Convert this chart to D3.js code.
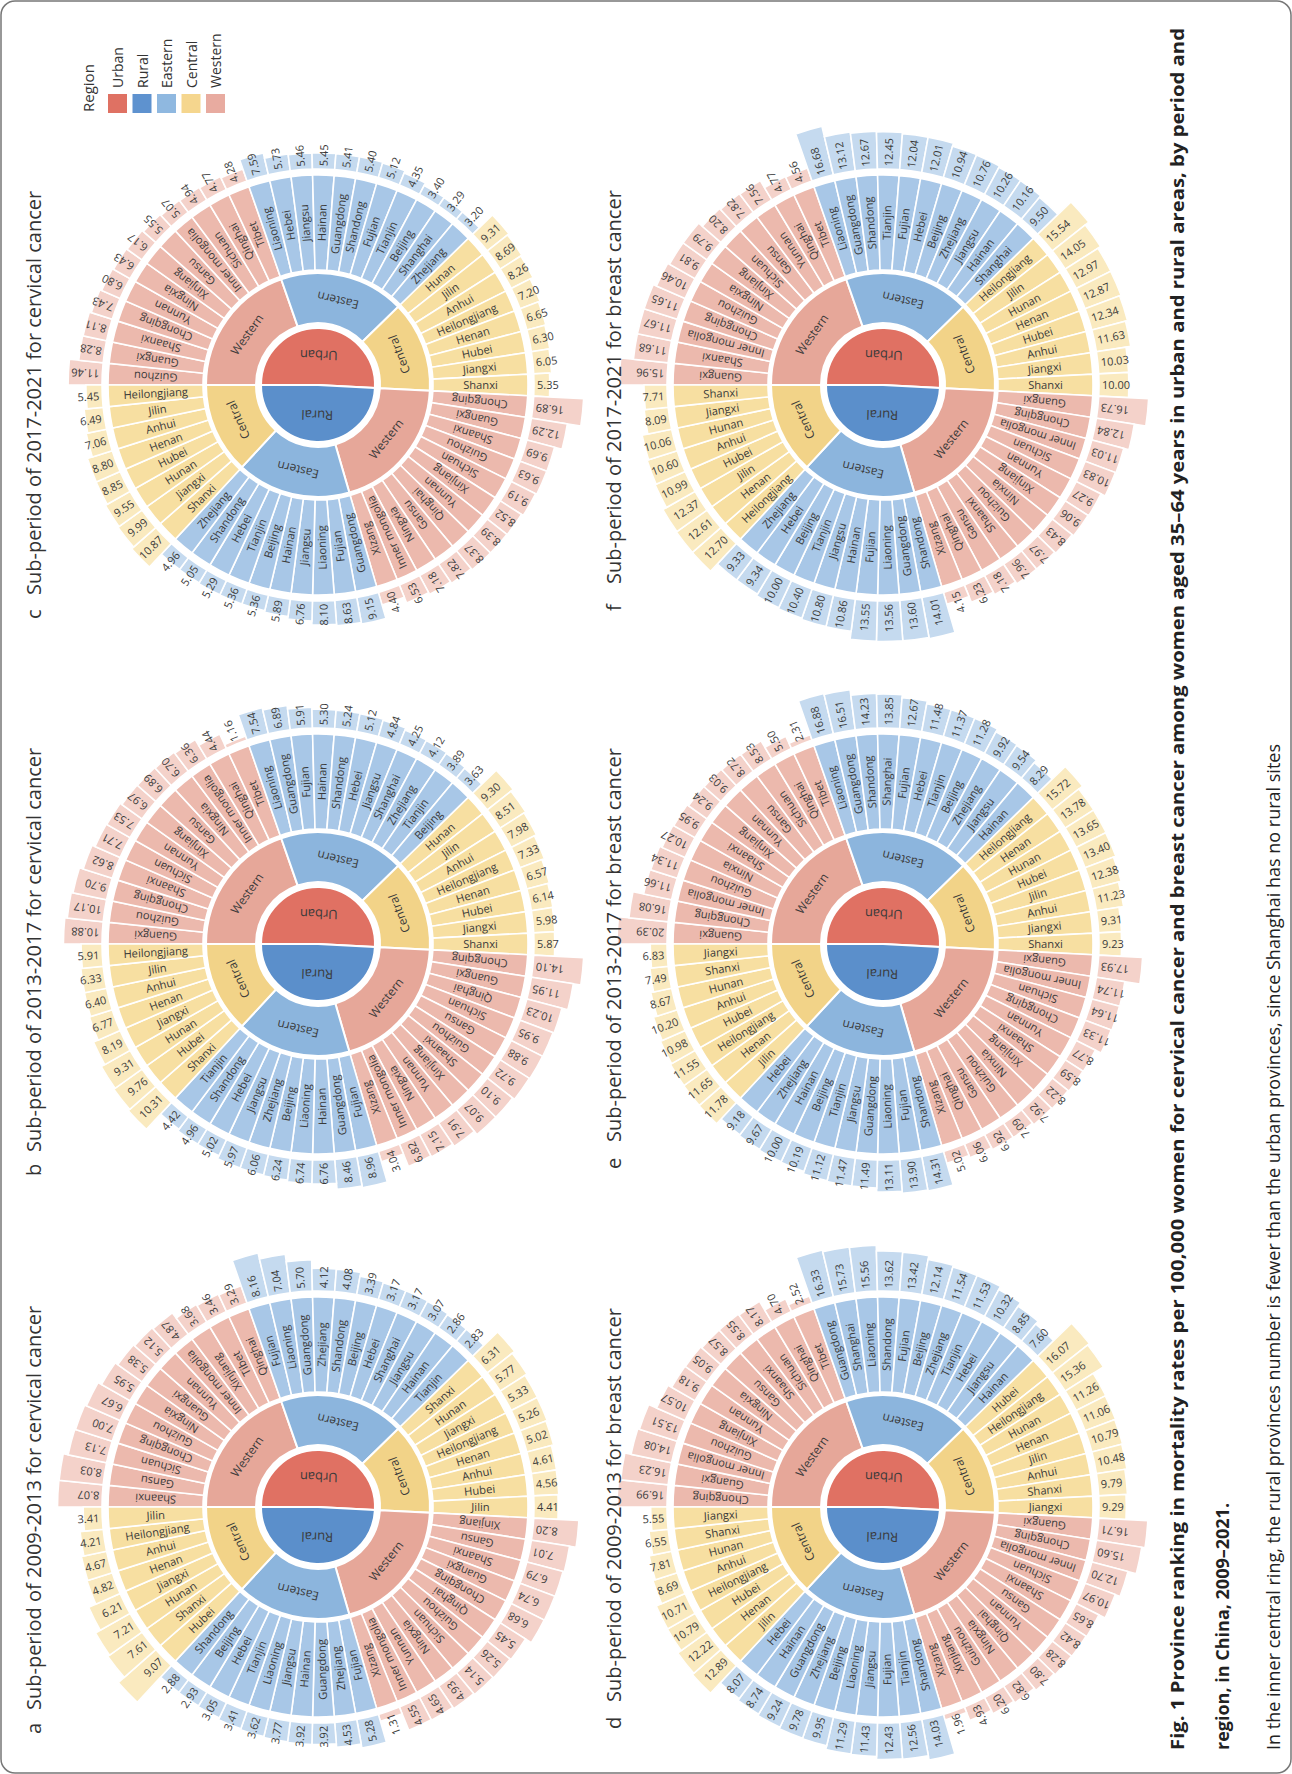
<!DOCTYPE html>
<html>
<head>
<meta charset="utf-8">
<script src="https://cdn.jsdelivr.net/npm/d3@7"></script>
<style>
  body { margin: 0; background: #fff; }
  text { font-family: "Open Sans", "DejaVu Sans", sans-serif; }
</style>
</head>
<body>
<svg id="fig" width="1292" height="1774"></svg>
<script>
// ---- data -------------------------------------------------------------
// each ring goes clockwise: Urban Western, Eastern, Central, then Rural Western, Eastern, Central
const settings = ["Urban", "Rural"];
const regions = ["Western", "Eastern", "Central"];
const groupSizes = [12, 11, 8, 12, 10, 8];

const panelLetters = ["a", "b", "c", "d", "e", "f"];
const panelTitles = [
  "Sub-period of 2009-2013 for cervical cancer",
  "Sub-period of 2013-2017 for cervical cancer",
  "Sub-period of 2017-2021 for cervical cancer",
  "Sub-period of 2009-2013 for breast cancer",
  "Sub-period of 2013-2017 for breast cancer",
  "Sub-period of 2017-2021 for breast cancer"
];

const namesA = ["Shaanxi","Gansu","Sichuan","Chongqing","Guizhou","Ningxia","Guangxi","Yunnan","Inner mongolia","Xinjiang","Tibet","Qinghai",
  "Fujian","Liaoning","Guangdong","Zhejiang","Shandong","Beijing","Hebei","Shanghai","Jiangsu","Hainan","Tianjin",
  "Shanxi","Hunan","Jiangxi","Heilongjiang","Henan","Anhui","Hubei","Jilin",
  "Xinjiang","Gansu","Shaanxi","Guangxi","Chongqing","Qinghai","Guizhou","Sichuan","Ningxia","Yunnan","Inner mongolia","Xizang",
  "Fujian","Zhejiang","Guangdong","Hainan","Jiangsu","Liaoning","Tianjin","Hebei","Beijing","Shandong",
  "Hubei","Shanxi","Hunan","Jiangxi","Henan","Anhui","Heilongjiang","Jilin"];
const valuesA = [8.07,8.03,7.13,7.00,6.67,5.95,5.38,5.12,4.87,3.68,3.46,3.29,
  8.16,7.04,5.70,4.12,4.08,3.39,3.17,3.17,3.07,2.86,2.83,
  6.31,5.77,5.33,5.26,5.02,4.61,4.56,4.41,
  8.20,7.01,6.79,6.74,6.68,5.45,5.26,5.14,4.93,4.65,4.55,1.31,
  5.28,4.53,3.92,3.92,3.77,3.62,3.41,3.05,2.93,2.88,
  9.07,7.61,7.21,6.21,4.82,4.67,4.21,3.41];

const namesB = ["Guangxi","Guizhou","Chongqing","Shaanxi","Sichuan","Yunnan","Xinjiang","Gansu","Ningxia","Inner mongolia","Qinghai","Tibet",
  "Liaoning","Guangdong","Fujian","Hainan","Shandong","Hebei","Jiangsu","Shanghai","Zhejiang","Tianjin","Beijing",
  "Hunan","Jilin","Anhui","Heilongjiang","Henan","Hubei","Jiangxi","Shanxi",
  "Chongqing","Guangxi","Qinghai","Sichuan","Gansu","Guizhou","Shaanxi","Xinjiang","Yunnan","Ningxia","Inner mongolia","Xizang",
  "Fujian","Guangdong","Hainan","Liaoning","Beijing","Zhejiang","Jiangsu","Hebei","Shandong","Tianjin",
  "Shanxi","Hubei","Hunan","Jiangxi","Henan","Anhui","Jilin","Heilongjiang"];
const valuesB = [10.88,10.17,9.70,8.62,7.71,7.53,6.97,6.89,6.70,6.36,4.44,1.16,
  7.54,6.89,5.91,5.30,5.24,5.12,4.84,4.25,4.12,3.89,3.63,
  9.30,8.51,7.98,7.33,6.57,6.14,5.98,5.87,
  14.10,11.95,10.23,9.95,9.88,9.72,9.10,9.07,7.91,7.15,6.82,3.04,
  8.96,8.46,6.76,6.74,6.24,6.06,5.97,5.02,4.96,4.42,
  10.31,9.76,9.31,8.19,6.77,6.40,6.33,5.91];

const namesC = ["Guizhou","Guangxi","Shaanxi","Chongqing","Yunnan","Ningxia","Xinjiang","Gansu","Inner mongolia","Sichuan","Qinghai","Tibet",
  "Liaoning","Hebei","Jiangsu","Hainan","Guangdong","Shandong","Fujian","Tianjin","Beijing","Shanghai","Zhejiang",
  "Hunan","Jilin","Anhui","Heilongjiang","Henan","Hubei","Jiangxi","Shanxi",
  "Chongqing","Guangxi","Shaanxi","Guizhou","Sichuan","Xinjiang","Yunnan","Qinghai","Gansu","Ningxia","Inner mongolia","Xizang",
  "Guangdong","Fujian","Liaoning","Jiangsu","Hainan","Beijing","Tianjin","Hebei","Shandong","Zhejiang",
  "Shanxi","Jiangxi","Hunan","Hubei","Henan","Anhui","Jilin","Heilongjiang"];
const valuesC = [11.46,8.28,8.11,7.43,6.80,6.43,6.17,5.55,5.07,4.94,4.77,4.28,
  7.59,5.73,5.46,5.45,5.41,5.40,5.12,4.35,3.40,3.29,3.20,
  9.31,8.69,8.26,7.20,6.65,6.30,6.05,5.35,
  16.89,12.29,9.69,9.63,9.19,8.52,8.39,8.37,7.82,7.18,6.53,4.40,
  9.15,8.63,8.10,6.76,5.89,5.36,5.36,5.29,5.05,4.96,
  10.87,9.99,9.55,8.85,8.80,7.06,6.49,5.45];

const namesD = ["Chongqing","Guangxi","Inner mongolia","Guizhou","Xinjiang","Yunnan","Ningxia","Gansu","Shaanxi","Sichuan","Qinghai","Tibet",
  "Guangdong","Shanghai","Liaoning","Shandong","Fujian","Beijing","Zhejiang","Tianjin","Hebei","Jiangsu","Hainan",
  "Hubei","Heilongjiang","Hunan","Henan","Jilin","Anhui","Shanxi","Jiangxi",
  "Guangxi","Chongqing","Inner mongolia","Sichuan","Shaanxi","Gansu","Yunnan","Qinghai","Ningxia","Guizhou","Xinjiang","Xizang",
  "Shandong","Tianjin","Fujian","Jiangsu","Liaoning","Beijing","Zhejiang","Guangdong","Hainan","Hebei",
  "Jilin","Henan","Hubei","Heilongjiang","Anhui","Hunan","Shanxi","Jiangxi"];
const valuesD = [16.99,16.23,14.08,13.51,10.57,9.18,9.05,8.57,8.55,8.17,4.70,2.52,
  16.33,15.73,15.56,13.62,13.42,12.14,11.54,11.53,10.32,8.85,7.60,
  16.07,15.36,11.26,11.06,10.79,10.48,9.79,9.29,
  16.71,15.60,12.70,10.97,8.65,8.42,8.28,7.80,6.82,6.20,4.93,1.96,
  14.03,12.56,12.43,11.43,11.29,9.95,9.78,9.24,8.74,8.07,
  12.89,12.22,10.79,10.71,8.69,7.81,6.55,5.55];

const namesE = ["Guangxi","Chongqing","Inner mongolia","Guizhou","Ninxia","Shaanxi","Xinjiang","Yunnan","Gansu","Sichuan","Qinghai","Tibet",
  "Liaoning","Guangdong","Shandong","Shanghai","Fujian","Hebei","Tianjin","Beijing","Zhejiang","Jiangsu","Hainan",
  "Heilongjiang","Henan","Hunan","Hubei","Jilin","Anhui","Jiangxi","Shanxi",
  "Guangxi","Inner mongolia","Sichuan","Chongqing","Yunnan","Shaanxi","Xinjiang","Ninxia","Guizhou","Gansu","Qinghai","Xizang",
  "Shandong","Fujian","Liaoning","Guangdong","Jiangsu","Tianjin","Beijing","Hainan","Zhejiang","Hebei",
  "Jilin","Henan","Heilongjiang","Hubei","Anhui","Hunan","Shanxi","Jiangxi"];
const valuesE = [20.39,16.08,11.66,11.34,10.27,9.95,9.24,9.03,8.72,8.53,5.50,2.31,
  16.88,16.51,14.23,13.85,12.67,11.48,11.37,11.28,9.92,9.54,8.29,
  15.72,13.78,13.65,13.40,12.38,11.23,9.31,9.23,
  17.93,11.74,11.64,11.33,8.77,8.59,8.22,7.92,7.09,6.92,6.06,5.02,
  14.31,13.90,13.11,11.49,11.47,11.12,10.19,10.00,9.67,9.18,
  11.78,11.65,11.55,10.98,10.20,8.67,7.49,6.83];

const namesF = ["Guangxi","Shaanxi","Inner mongolia","Chongqing","Guizhou","Ningxia","Xinjiang","Sichuan","Gansu","Yunnan","Qinghai","Tibet",
  "Liaoning","Guangdong","Shandong","Tianjin","Fujian","Hebei","Beijing","Zhejiang","Jiangsu","Hainan","Shanghai",
  "Heilongjiang","Jilin","Hunan","Henan","Hubei","Anhui","Jiangxi","Shanxi",
  "Guangxi","Chongqing","Inner mongolia","Sichuan","Yunnan","Xinjiang","Ninxia","Guizhou","Shaanxi","Gansu","Qinghai","Xizang",
  "Shandong","Guangdong","Liaoning","Fujian","Hainan","Jiangsu","Tianjin","Beijing","Hebei","Zhejiang",
  "Heilongjiang","Henan","Jilin","Hubei","Anhui","Hunan","Jiangxi","Shanxi"];
const valuesF = [15.96,11.68,11.67,11.65,10.46,9.81,9.79,8.20,7.82,7.56,4.77,4.56,
  16.68,13.12,12.67,12.45,12.04,12.01,10.94,10.76,10.26,10.16,9.50,
  15.54,14.05,12.97,12.87,12.34,11.63,10.03,10.00,
  16.73,12.84,11.03,10.83,9.27,9.06,8.43,7.97,7.96,7.18,6.23,4.15,
  14.01,13.60,13.56,13.55,10.86,10.80,10.40,10.00,9.34,9.33,
  12.70,12.61,12.37,10.99,10.60,10.06,8.09,7.71];

const panelNames = [namesA, namesB, namesC, namesD, namesE, namesF];
const panelValues = [valuesA, valuesB, valuesC, valuesD, valuesE, valuesF];

const legendKeys = ["Urban", "Rural", "Eastern", "Central", "Western"];

const captionBold1 = "Fig. 1  Province ranking in mortality rates per 100,000 women for cervical cancer and breast cancer among women aged 35\u201364 years in urban and rural areas, by period and";
const captionBold2 = "region, in China, 2009\u20132021.";
const captionNote = "In the inner central ring, the rural provinces number is fewer than the urban provinces, since Shanghai has no rural sites";

// ---- colours ----------------------------------------------------------
const colSetting = { Urban: "#e07163", Rural: "#5b8fcb" };
const colRegion = { Eastern: "#8cb5dd", Central: "#f2d388", Western: "#e6a799" };
const colLeaf = { Eastern: "#a8c7e7", Central: "#f7dfa1", Western: "#ecb9ad" };
const colBar = { Eastern: "#c5daef", Central: "#faeabf", Western: "#f4d2ca" };
const legendColors = ["#df7163", "#5e92cf", "#8fb8e0", "#f5d68e", "#e8aba0"];

// ---- layout -----------------------------------------------------------
const W = 1292, H = 1774;
// the figure is drawn landscape (1774 x 1292) and turned a quarter to the left
const svg = d3.select("#fig");
svg.append("rect").attr("x", 1).attr("y", 1).attr("width", W - 2).attr("height", H - 2)
  .attr("rx", 14).attr("fill", "none").attr("stroke", "#777").attr("stroke-width", 1.5);

const land = svg.append("g").attr("transform", `translate(0,${H}) rotate(-90)`);

const colU = [267, 830, 1389];   // landscape x of the three columns
const rowV = [318, 883];         // landscape y of the two rows
const rad = { inner: 57, regIn: 62, regOut: 112, leafIn: 115, leafOut: 210, barIn: 216, barMax: 50 };

function radial(a, r) {
  // d3 angle (0 = 12 o'clock, clockwise) -> point
  return [r * Math.sin(a), -r * Math.cos(a)];
}
function radialRot(a) {
  let deg = a * 180 / Math.PI - 90;
  let flip = false;
  if (deg > 90) { deg -= 180; flip = true; }
  return { deg, flip };
}
function tangRot(a) {
  let deg = a * 180 / Math.PI - 180;
  while (deg > 90) deg -= 180;
  while (deg <= -90) deg += 180;
  return deg;
}

function drawPanel(i) {
  const names = panelNames[i], vals = panelValues[i];
  const N = names.length;
  const step = 2 * Math.PI / N;
  const cu = colU[i % 3], cv = rowV[Math.floor(i / 3)];
  const p = land.append("g").attr("transform", `translate(${cu},${cv})`);

  // build leaves and groups
  const leaves = [];
  const groups = [];
  let k = 0;
  groupSizes.forEach((n, gi) => {
    const setting = settings[Math.floor(gi / 3)], region = regions[gi % 3];
    groups.push({ setting, region, a0: k * step, a1: (k + n) * step });
    for (let j = 0; j < n; j++) {
      leaves.push({ name: names[k], value: vals[k], setting, region, a0: k * step, a1: (k + 1) * step });
      k++;
    }
  });
  const nUrban = groupSizes[0] + groupSizes[1] + groupSizes[2];
  const halves = [
    { setting: "Urban", a0: 0, a1: nUrban * step },
    { setting: "Rural", a0: nUrban * step, a1: 2 * Math.PI }
  ];

  const barScale = d3.scaleLinear().domain([0, d3.max(vals)]).range([0, rad.barMax]);
  const arc = d3.arc();

  // value bars
  p.selectAll(".bar").data(leaves).join("path")
    .attr("class", "bar")
    .attr("d", d => arc({ innerRadius: rad.barIn, outerRadius: rad.barIn + barScale(d.value), startAngle: d.a0, endAngle: d.a1 }))
    .attr("fill", d => colBar[d.region])
    .attr("stroke", "#fff").attr("stroke-width", 1.6);

  // province ring
  p.selectAll(".leaf").data(leaves).join("path")
    .attr("class", "leaf")
    .attr("d", d => arc({ innerRadius: rad.leafIn, outerRadius: rad.leafOut, startAngle: d.a0, endAngle: d.a1 }))
    .attr("fill", d => colLeaf[d.region])
    .attr("stroke", "#fff").attr("stroke-width", 1.6);

  // region ring
  p.selectAll(".reg").data(groups).join("path")
    .attr("class", "reg")
    .attr("d", d => arc({ innerRadius: rad.regIn, outerRadius: rad.regOut, startAngle: d.a0, endAngle: d.a1 }))
    .attr("fill", d => colRegion[d.region])
    .attr("stroke", "#fff").attr("stroke-width", 2);

  // urban / rural
  p.selectAll(".half").data(halves).join("path")
    .attr("class", "half")
    .attr("d", d => arc({ innerRadius: 0, outerRadius: rad.inner, startAngle: d.a0, endAngle: d.a1 }))
    .attr("fill", d => colSetting[d.setting])
    .attr("stroke", "#fff").attr("stroke-width", 2);

  // province labels
  p.selectAll(".lname").data(leaves).join("text")
    .attr("class", "lname")
    .attr("transform", d => {
      const a = (d.a0 + d.a1) / 2, [x, y] = radial(a, (rad.leafIn + rad.leafOut) / 2);
      return `translate(${x},${y}) rotate(${radialRot(a).deg})`;
    })
    .attr("text-anchor", "middle").attr("dy", "0.35em")
    .attr("font-size", 11.2).attr("fill", "#3a3a3a")
    .text(d => d.name);

  // value labels
  p.selectAll(".lval").data(leaves).join("text")
    .attr("class", "lval")
    .attr("transform", d => {
      const a = (d.a0 + d.a1) / 2, [x, y] = radial(a, rad.barIn + 3);
      return `translate(${x},${y}) rotate(${radialRot(a).deg})`;
    })
    .attr("text-anchor", d => radialRot((d.a0 + d.a1) / 2).flip ? "end" : "start")
    .attr("dy", "0.35em")
    .attr("font-size", 11).attr("fill", "#3a3a3a")
    .text(d => d.value.toFixed(2));

  // region labels
  p.selectAll(".gname").data(groups).join("text")
    .attr("class", "gname")
    .attr("transform", d => {
      const a = (d.a0 + d.a1) / 2, [x, y] = radial(a, (rad.regIn + rad.regOut) / 2);
      return `translate(${x},${y}) rotate(${tangRot(a)})`;
    })
    .attr("text-anchor", "middle").attr("dy", "0.35em")
    .attr("font-size", 12).attr("fill", "#3a3a3a")
    .text(d => d.region);

  // urban / rural labels
  p.selectAll(".hname").data(halves).join("text")
    .attr("class", "hname")
    .attr("transform", d => {
      const a = (d.a0 + d.a1) / 2, [x, y] = radial(a, 30);
      return `translate(${x},${y}) rotate(${tangRot(a)})`;
    })
    .attr("text-anchor", "middle").attr("dy", "0.35em")
    .attr("font-size", 13).attr("fill", "#3a3a3a")
    .text(d => d.setting);

  // title
  const right = i >= 3;
  const tu = [[40, 598, 1155], [45, 605, 1163]][right ? 1 : 0][i % 3];
  const tv = right ? 621 : 41;
  land.append("text").attr("x", tu).attr("y", tv)
    .attr("font-size", 20).attr("fill", "#333").text(panelLetters[i]);
  land.append("text").attr("x", tu + (right ? 27 : 24)).attr("y", tv)
    .attr("font-size", 20).attr("fill", "#333").text(panelTitles[i]);
}

d3.range(6).forEach(drawPanel);

// legend
const leg = land.append("g");
leg.append("text").attr("x", 1662).attr("y", 94).attr("font-size", 15).attr("fill", "#333").text("Region");
legendKeys.forEach((key, j) => {
  const v = 108 + j * 24.5;
  leg.append("rect").attr("x", 1661).attr("y", v).attr("width", 19).attr("height", 19)
    .attr("fill", legendColors[j]);
  leg.append("text").attr("x", 1686).attr("y", v + 15).attr("font-size", 14).attr("fill", "#333").text(key);
});

// caption
land.append("text").attr("x", 24).attr("y", 1184)
  .attr("font-size", 18).attr("font-weight", "bold").attr("fill", "#222")
  .attr("textLength", 1722).attr("lengthAdjust", "spacingAndGlyphs")
  .text(captionBold1);
land.append("text").attr("x", 24).attr("y", 1229)
  .attr("font-size", 18).attr("font-weight", "bold").attr("fill", "#222")
  .text(captionBold2);
land.append("text").attr("x", 24).attr("y", 1280)
  .attr("font-size", 18).attr("fill", "#222")
  .text(captionNote);
</script>
</body>
</html>
